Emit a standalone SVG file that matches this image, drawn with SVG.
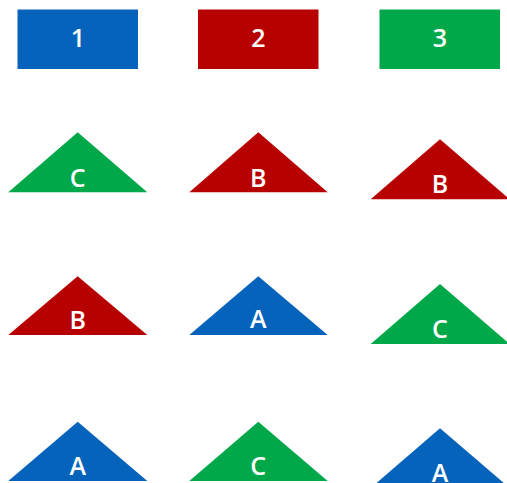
<svg xmlns="http://www.w3.org/2000/svg" width="507" height="483" viewBox="0 0 507 483">
<style>
.b{fill:#0563BB}.r{fill:#B70000}.g{fill:#00A84A}
text{font-family:"Open Sans","Liberation Sans",sans-serif;font-weight:600;font-size:25px;fill:#fff;text-anchor:middle}
</style>
<rect width="507" height="483" fill="#fff"/>
<g id="box1"><rect class="b" x="17.5" y="9.5" width="120.5" height="59.5"/><text x="78" y="47">1</text></g>
<g id="box2"><rect class="r" x="198" y="9.5" width="120.5" height="59.5"/><text x="258.5" y="47">2</text></g>
<g id="box3"><rect class="g" x="379.5" y="9.5" width="120.5" height="59.5"/><text x="440" y="47">3</text></g>

<g id="r1c1"><polygon class="g" points="8.3,192.3 77.7,132.3 147.3,192.3"/><text x="77.7" y="186.5">C</text></g>
<g id="r1c2"><polygon class="r" points="189.3,192.3 258.3,132.3 327.7,192.3"/><text x="258.3" y="186.5">B</text></g>
<g id="r1c3"><polygon class="r" points="370.7,199.3 440,139.3 509.7,199.3"/><text x="440" y="193">B</text></g>

<g id="r2c1"><polygon class="r" points="8.3,335 77.7,276.3 147.3,335"/><text x="77.7" y="328.5">B</text></g>
<g id="r2c2"><polygon class="b" points="189.3,335 258.3,276.3 327.7,335"/><text x="258.3" y="328">A</text></g>
<g id="r2c3"><polygon class="g" points="370.7,344 440,284 509.7,344"/><text x="440" y="337.5">C</text></g>

<g id="r3c1"><polygon class="b" points="8.3,481 77.7,421.7 147.3,481"/><text x="77.7" y="474.5">A</text></g>
<g id="r3c2"><polygon class="g" points="189.3,481 258.3,421.7 327.7,481"/><text x="258.3" y="474.5">C</text></g>
<g id="r3c3"><polygon class="b" points="370.7,488 440,428.3 509.7,488"/><text x="440" y="481.5">A</text></g>
<g id="connectors"/>
</svg>
